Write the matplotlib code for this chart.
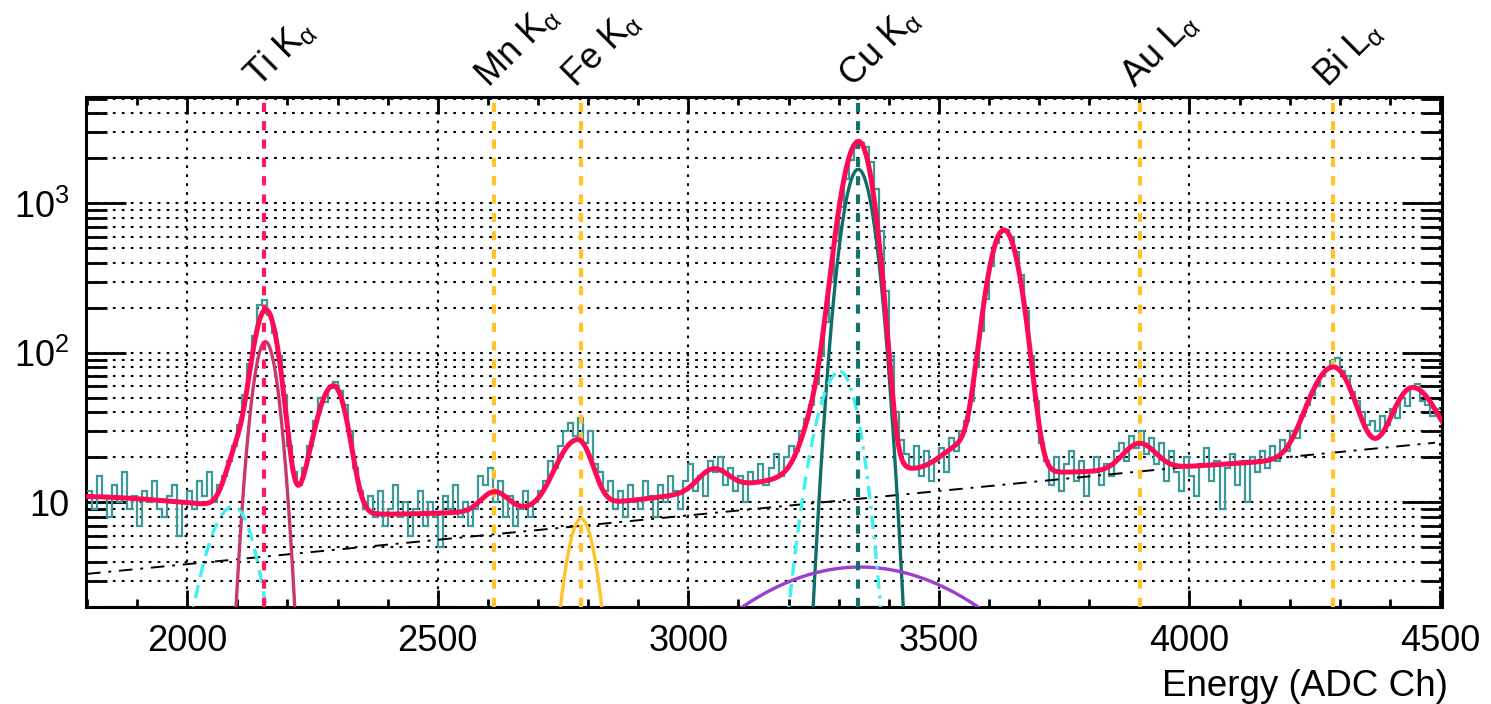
import numpy as np
import matplotlib
matplotlib.use('Agg')
import matplotlib.pyplot as plt
from matplotlib.ticker import MultipleLocator, LogLocator, NullFormatter, FixedLocator, FixedFormatter

plt.rcParams['font.family'] = ['Liberation Sans', 'DejaVu Sans']
plt.rcParams['mathtext.fontset'] = 'custom'
plt.rcParams['mathtext.rm'] = 'Liberation Sans'
plt.rcParams['mathtext.it'] = 'Liberation Sans'
plt.rcParams['mathtext.default'] = 'regular'

# measured spectrum, 10 ADC channels per bin starting at 1800
bin_lo = 1800
bin_w = 10
counts = [
    12, 9, 15, 11, 8, 13, 10, 16, 9, 11,          # 1800
    7, 12, 10, 14, 9, 8, 11, 13, 6, 10,           # 1900
    12, 9, 14, 11, 16, 10, 13, 15, 19, 24,        # 2000
    33, 52, 85, 130, 210, 225, 180, 135, 95, 52,  # 2100
    24, 16, 13, 17, 24, 35, 50, 47, 58, 64,       # 2200
    56, 45, 30, 17, 12, 9, 11, 8, 12, 7,          # 2300
    9, 13, 8, 10, 6, 9, 12, 7, 10, 8,             # 2400
    5, 11, 9, 13, 8, 10, 7, 9, 15, 13,            # 2500
    17, 10, 14, 8, 11, 7, 9, 12, 8, 10,           # 2600
    12, 14, 19, 17, 24, 30, 34, 28, 37, 25,       # 2700
    30, 18, 16, 12, 14, 9, 12, 8, 13, 10,         # 2800
    9, 14, 11, 8, 13, 10, 15, 12, 9, 14,          # 2900
    18, 12, 15, 11, 19, 16, 20, 13, 17, 12,       # 3000
    15, 10, 16, 14, 18, 13, 17, 21, 15, 20,       # 3100
    24, 22, 30, 36, 45, 62, 95, 160, 300, 560,    # 3200
    950, 1450, 1950, 2350, 2550, 2400, 1900, 1250, 650, 260,  # 3300
    95, 40, 26, 21, 17, 24, 15, 22, 14, 19,       # 3400
    23, 16, 27, 22, 30, 35, 48, 80, 140, 230,     # 3500
    380, 540, 640, 660, 600, 470, 330, 190, 95, 48,  # 3600
    25, 19, 13, 20, 12, 18, 22, 14, 19, 11,       # 3700
    16, 20, 13, 18, 15, 22, 25, 19, 28, 23,       # 3800
    30, 21, 27, 18, 25, 14, 22, 16, 12, 20,       # 3900
    15, 11, 18, 23, 14, 19, 9, 17, 21, 13,        # 4000
    18, 10, 20, 16, 22, 17, 24, 19, 26, 22,       # 4100
    30, 27, 38, 45, 52, 60, 70, 78, 88, 92,       # 4200
    76, 70, 55, 48, 40, 33, 35, 30, 38, 33,       # 4300
    42, 37, 50, 44, 58, 62, 48, 45, 38, 42,       # 4400
]

# line markers
line_names = ['Ti K$_{\\alpha}$', 'Mn K$_{\\alpha}$', 'Fe K$_{\\alpha}$',
              'Cu K$_{\\alpha}$', 'Au L$_{\\alpha}$', 'Bi L$_{\\alpha}$']
line_pos = [2154, 2612, 2786, 3339, 3901, 4286]

# total fit: exponential continuum + gaussians (centre, height, sigma left, sigma right)
fit_cont_x = [2450, 4120]
fit_cont_y = [8.0, 18.5]
fit_mu = [1700, 2105, 2157, 2292, 2613, 2779, 3050, 3303, 3340, 3343, 3550, 3630, 3900, 4287, 4445]
fit_amp = [5.45, 14, 185, 52, 3.0, 16.8, 4.6, 75, 2534, 3.7, 8, 648, 8.2, 60.5, 37]
fit_sl = [328, 22, 21, 29, 25, 36, 28, 40, 26.5, 212, 40, 26, 30, 40, 33]
fit_sr = [328, 22, 21, 23, 25, 25, 28, 40, 23, 212, 40, 26, 30, 34, 40]

# linear background (straight on the log axis)
bkg_x = [1800, 4490]
bkg_y = [3.33, 25.1]

# single components
ti_par = (2156, 119, 20.5, 20.5)
esc1_par = (2092, 9.4, 45, 37)
esc2_par = (3303, 75, 38, 30)
fe_par = (2786, 7.8, 25, 25)
cu_par = (3339, 1692, 24.5, 24.5)
wide_par = (3343, 3.7, 212, 212)


def gaus(x, mu, amp, sl, sr):
    s = np.where(x < mu, sl, sr)
    return amp * np.exp(-0.5 * ((x - mu) / s) ** 2)


x = np.arange(1790, 4512, 1.0)

k = np.log(fit_cont_y[1] / fit_cont_y[0]) / (fit_cont_x[1] - fit_cont_x[0])
total = fit_cont_y[0] * np.exp(k * (x - fit_cont_x[0]))
for mu, a, sl, sr in zip(fit_mu, fit_amp, fit_sl, fit_sr):
    total = total + gaus(x, mu, a, sl, sr)

fig = plt.figure(figsize=(14.91, 7.04), dpi=100)
ax = fig.add_axes([86 / 1491, 1 - 607 / 704, (1442 - 86) / 1491, (607 - 97) / 704])
ax.set_yscale('log')

edges = bin_lo + bin_w * np.arange(len(counts) + 1)
ax.stairs(counts, edges, baseline=None, color='#3a9a98', lw=1.6, zorder=3)

ax.plot(bkg_x, bkg_y, color='black', lw=1.4, ls=(0, (7, 4, 1.5, 4)), zorder=4)

ax.plot(x, gaus(x, *ti_par), color='#c8386c', lw=2.4, zorder=5)
ax.plot(x, gaus(x, *fe_par), color='#ffc42a', lw=2.4, zorder=5)
ax.plot(x, gaus(x, *cu_par), color='#0f6e6a', lw=2.4, zorder=5)
ax.plot(x, gaus(x, *wide_par), color='#9a3fd0', lw=2.4, zorder=5)
ax.plot(x, gaus(x, *esc1_par), color='#3ff0f0', lw=2.4, ls=(0, (4, 2.5)), zorder=5)
xl = x[x <= esc2_par[0]]
xr = x[x >= esc2_par[0]]
ax.plot(xl, gaus(xl, *esc2_par), color='#3ff0f0', lw=2.4, ls=(0, (4, 2.5)), zorder=5)
ax.plot(xr, gaus(xr, *esc2_par), color='#3ff0f0', lw=2.4, ls=(0, (4, 2, 1, 2)), zorder=5)

line_cols = ['#ff1a5e', '#ffc42a', '#ffc42a', '#13726e', '#ffc42a', '#ffc42a']
for name, pos, c in zip(line_names, line_pos, line_cols):
    ax.axvline(pos, color=c, lw=3.0, ls=(0, (2.2, 2.2)), zorder=6)
    ax.annotate(name, xy=(pos, 1.0), xycoords=('data', 'axes fraction'),
                xytext=(-4, 6), textcoords='offset points', rotation=45,
                ha='left', va='baseline', rotation_mode='anchor', fontsize=26,
                annotation_clip=False)

ax.plot(x, total, color='#ff0a54', lw=3.6, zorder=7, solid_capstyle='round')

ax.set_xlim(1798, 4504)
ax.set_ylim(2.0, 5150)

ax.xaxis.set_major_locator(MultipleLocator(500))
ax.xaxis.set_minor_locator(MultipleLocator(100))
ax.yaxis.set_major_locator(FixedLocator([10, 100, 1000]))
ax.yaxis.set_major_formatter(FixedFormatter(['10', '$10^{2}$', '$10^{3}$']))
ax.yaxis.set_minor_locator(LogLocator(base=10, subs=np.arange(2, 10)))
ax.yaxis.set_minor_formatter(NullFormatter())

ax.tick_params(axis='x', which='both', direction='in', top=True, labelsize=26, pad=12, width=2)
ax.tick_params(axis='x', which='major', length=12)
ax.tick_params(axis='x', which='minor', length=6)
ax.tick_params(axis='y', which='both', direction='in', right=True, labelsize=26, pad=12, width=2)
ax.tick_params(axis='y', which='major', length=29)
ax.tick_params(axis='y', which='minor', length=15)

ax.grid(True, axis='x', which='major', color='black', lw=1.5, ls=(0, (1.3, 3.0)))
ax.grid(True, axis='y', which='both', color='black', lw=1.5, ls=(0, (1.3, 3.0)))
ax.set_axisbelow(True)
for sp in ax.spines.values():
    sp.set_linewidth(2.2)

fig.text(1448 / 1491, 1 - 686 / 704, 'Energy (ADC Ch)', ha='right', va='center', fontsize=26.5)

fig.savefig('out.png', dpi=100)
